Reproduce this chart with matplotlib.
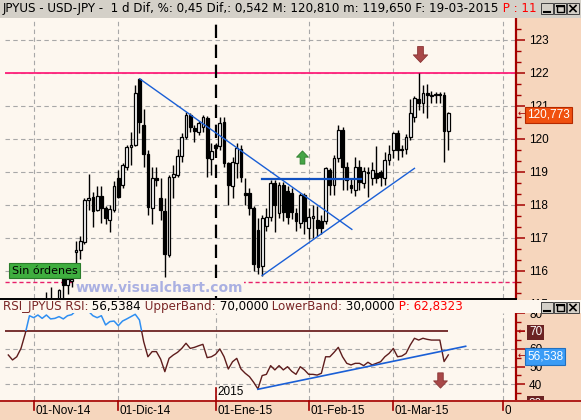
import numpy as np
import matplotlib
matplotlib.use("Agg")
import matplotlib.pyplot as plt
from matplotlib.patches import Rectangle
from matplotlib.lines import Line2D
from matplotlib.path import Path
from matplotlib.transforms import Bbox, blended_transform_factory
from matplotlib.ticker import FixedLocator

# ----------------------------- data -----------------------------
symbol = "JPYUS"
instrument = "USD-JPY"
index_origin = "2014-12-01"          # bar 0 ; one bar per weekday
candle_first_day = "2014-11-06"
last_day = "2015-03-19"

opens = [114.70, 115.15, 114.55, 114.90, 115.77, 115.57, 115.68, 116.55, 116.63, 116.88,
         118.14, 118.24, 117.84, 118.27, 117.89, 117.53, 117.84, 118.80, 118.60, 119.15,
         119.76, 119.81, 121.80, 120.40, 119.53, 117.89, 118.80, 118.20, 117.81, 116.47,
         118.85, 118.90, 119.48, 120.04, 120.72, 120.33, 120.21, 120.35, 120.62, 119.38,
         119.81, 119.78, 120.50, 119.25, 118.55, 119.27, 119.70, 118.35, 118.35, 117.89,
         117.23, 116.15, 117.36, 117.64, 118.65, 117.74, 118.60, 118.40, 118.34, 117.76,
         117.44, 118.29, 117.28, 117.60, 117.54, 117.49, 117.49, 119.05, 118.60, 119.41,
         120.26, 119.13, 118.60, 118.45, 119.15, 118.67, 118.98, 118.80, 118.95, 119.00,
         118.80, 119.35, 119.66, 120.18, 119.70, 119.68, 120.04, 120.65, 121.19, 121.07,
         121.38, 121.30, 121.32, 121.33, 121.33, 120.23]
highs = [115.35, 115.50, 115.05, 115.45, 115.82, 115.87, 115.90, 116.90, 117.05, 118.20,
         118.92, 118.39, 118.55, 118.55, 117.95, 117.98, 118.73, 119.05, 119.25, 119.80,
         120.21, 121.63, 121.83, 120.90, 119.66, 119.15, 119.15, 118.80, 118.20, 118.90,
         119.20, 119.70, 120.16, 120.82, 120.79, 120.41, 120.55, 120.72, 120.70, 119.86,
         119.86, 120.67, 120.67, 119.30, 119.45, 119.86, 119.80, 118.80, 118.50, 117.95,
         117.60, 117.70, 117.90, 118.75, 118.75, 118.68, 118.68, 118.55, 118.50, 117.90,
         118.35, 118.35, 117.90, 118.00, 117.95, 117.70, 119.15, 119.10, 119.50, 120.40,
         120.36, 119.30, 118.80, 119.45, 119.35, 119.15, 119.15, 119.30, 119.78, 119.05,
         119.60, 119.80, 120.20, 120.26, 119.80, 120.15, 121.20, 121.28, 122.00, 121.62,
         121.65, 121.43, 121.40, 121.40, 121.40, 120.81]
lows = [114.20, 114.30, 114.30, 114.80, 115.05, 115.30, 115.50, 116.15, 116.35, 116.80,
        117.84, 117.31, 117.80, 117.45, 117.42, 117.18, 117.79, 118.19, 118.50, 119.05,
        119.20, 119.78, 120.16, 119.15, 117.69, 117.41, 118.55, 117.53, 115.82, 116.42,
        118.20, 118.85, 119.30, 120.00, 120.21, 119.91, 120.10, 120.20, 118.85, 118.90,
        119.70, 119.66, 119.15, 118.00, 118.20, 118.80, 118.70, 118.00, 117.70, 116.00,
        115.90, 115.85, 117.20, 117.50, 117.18, 117.60, 117.50, 117.40, 117.55, 117.20,
        117.30, 117.10, 116.95, 116.98, 117.05, 117.10, 117.40, 118.30, 118.30, 119.30,
        118.45, 118.45, 118.35, 118.25, 118.45, 118.50, 118.24, 118.60, 118.65, 118.55,
        118.60, 119.20, 119.40, 119.35, 119.45, 119.55, 119.95, 120.50, 120.87, 120.77,
        120.62, 121.07, 121.09, 121.07, 119.30, 119.65]
closes = [114.60, 114.55, 114.90, 115.40, 115.57, 115.74, 115.76, 116.63, 116.90, 118.14,
          118.21, 117.82, 118.27, 117.89, 117.59, 117.86, 118.58, 118.24, 119.19, 119.76,
          119.82, 121.37, 120.52, 119.53, 117.94, 118.80, 118.75, 117.85, 116.50, 118.85,
          118.92, 119.47, 120.04, 120.72, 120.34, 120.24, 120.46, 120.67, 119.41, 119.63,
          119.73, 120.47, 119.25, 118.60, 119.30, 119.73, 118.85, 118.28, 117.90, 116.20,
          116.10, 117.61, 117.64, 118.65, 117.99, 118.60, 117.77, 117.64, 117.77, 117.49,
          118.29, 117.49, 117.64, 117.65, 117.30, 117.28, 119.10, 118.60, 119.41, 120.26,
          119.13, 118.75, 118.50, 119.15, 118.70, 119.02, 118.96, 119.05, 118.80, 118.85,
          119.35, 119.53, 120.16, 119.66, 119.65, 120.04, 120.77, 121.22, 121.09, 121.37,
          121.33, 121.30, 121.33, 121.32, 120.231, 120.773]

rsi_first_day = "2014-10-24"
rsi_values = [56.5, 53.7, 55.5, 60.2, 68.5, 78.6, 77.5, 79.0, 77.1, 79.0,
              76.8, 77.1, 78.1, 76.8, 78.6, 79.2, 81.5, 83.0, 84.5, 81.0,
              78.6, 77.5, 78.6, 73.4, 75.3, 75.6, 73.0, 75.6, 76.8, 78.1,
              79.4, 76.2, 64.0, 55.5, 58.4, 58.4, 54.2, 47.1, 54.6, 56.5,
              58.0, 60.2, 63.1, 60.2, 60.8, 61.7, 62.5, 55.0, 55.5, 56.9,
              59.9, 55.5, 48.6, 52.7, 54.6, 48.6, 46.2, 44.3, 41.1, 37.4,
              44.9, 45.6, 50.5, 48.1, 50.5, 48.1, 49.9, 47.3, 45.6, 49.9,
              48.1, 45.6, 45.6, 45.2, 46.2, 55.5, 55.5, 58.0, 60.8, 55.5,
              51.8, 50.9, 51.8, 51.8, 50.5, 52.4, 50.9, 51.8, 52.7, 55.5,
              57.4, 60.2, 55.5, 55.9, 57.4, 62.1, 65.9, 64.9, 65.9, 65.3,
              64.9, 64.9, 64.9, 52.8, 56.5384]
rsi_upper_band = 70.0
rsi_lower_band = 30.0
rsi_cursor_value = 62.8323
cursor_bar_label = "11"

resistance_level = 122.0
support_level = 115.67

# trend lines as (bar index, value)
trend_down_x = [5.1, 55.2]
trend_down_y = [121.81, 117.25]
trend_up_x = [34.0, 70.0]
trend_up_y = [115.85, 119.10]
neckline_x = [34.0, 57.3]
neckline_y = [118.79, 118.79]
rsi_trend_x = [33.0, 82.1]
rsi_trend_y = [37.2, 61.4]

buy_signal = (43.4, 119.45)
sell_signal_price = (71.3, 122.57)
sell_signal_rsi = (76.1, 42.4)

price_ticks = [115, 116, 117, 118, 119, 120, 121, 122, 123]
rsi_ticks = [30, 40, 50, 60, 70, 80]
rsi_grid = [40, 50, 60]
month_starts = ["2014-11-01", "2014-12-01", "2015-01-01", "2015-02-01", "2015-03-01", "2015-04-01"]
month_labels = ["01-Nov-14", "01-Dic-14", "01-Ene-15", "01-Feb-15", "01-Mar-15", "01-Abr-15"]
year_label = "2015"
year_start = "2015-01-01"
signal_label = "Sin órdenes"
watermark = "www.visualchart.com"

# ----------------------------- style -----------------------------
W, H = 581, 420
BG = "#fdf7ef"
PEACH = "#f6d6bd"
GREY = "#d4d0c8"
AXRED = "#a40000"
GRID = "#a8a8a8"
PINK = "#ff1f7a"
BLUE = "#1a5fd6"
RSI_BROWN = "#5e1c1c"
RSI_BLUE = "#2f8ff2"
TITLE_BROWN = "#7a2626"
RED = "#ff0000"
FONT = "DejaVu Sans"
AXFONT = "Liberation Sans"


def bar_index(day):
    return int(np.busday_count(index_origin, day))


def month_pos(day):
    d = np.datetime64(day)
    ld = np.datetime64(last_day)
    if d <= ld:
        return bar_index(np.busday_offset(d, 0, roll="forward"))
    return bar_index(last_day) + int((d - ld).astype(int))


def es(v, d):
    return f"{v:.{d}f}".replace(".", ",")


candle_x = bar_index(candle_first_day) + np.arange(len(opens))
rsi_x = bar_index(rsi_first_day) + np.arange(len(rsi_values))
o = np.array(opens); h = np.array(highs); l = np.array(lows); c = np.array(closes)

fig = plt.figure(figsize=(W / 100, H / 100), dpi=100)
fig.patch.set_facecolor(BG)


def fbox(x0, y0, x1, y1):
    return [x0 / W, 1 - y1 / H, (x1 - x0) / W, (y1 - y0) / H]


def px_rect(x0, y0, x1, y1, **kw):
    r = Rectangle((x0 / W, 1 - y1 / H), (x1 - x0) / W, (y1 - y0) / H,
                  transform=fig.transFigure, **kw)
    fig.add_artist(r)
    return r


def px_line(xs, ys, **kw):
    ln = Line2D([x / W for x in xs], [1 - y / H for y in ys], transform=fig.transFigure, **kw)
    fig.add_artist(ln)
    return ln


def px_text(x, y, s, **kw):
    return fig.text(x / W, 1 - y / H, s, **kw)


PL, PR = 5, 516
ax = fig.add_axes(fbox(PL, 19, PR, 298))
ax2 = fig.add_axes(fbox(PL, 313, PR, 400))
AXW = PR - PL

xl = rsi_x[0] - 0.78
xr = candle_x[-1] + 16.0
for a in (ax, ax2):
    a.set_facecolor(BG)
    for s in ["top", "left", "bottom"]:
        a.spines[s].set_visible(False)
    a.spines["right"].set_color(AXRED)
    a.spines["right"].set_linewidth(1.6)
    a.set_xlim(xl, xr)
    a.tick_params(axis="x", bottom=False, labelbottom=False)
    a.yaxis.set_ticks_position("right")
    a.tick_params(axis="y", which="major", direction="out", length=6.5, width=1.1,
                  color=AXRED, labelright=False, labelleft=False)
    a.tick_params(axis="y", which="minor", direction="out", length=3.5, width=1.0,
                  color=AXRED)

ax.set_ylim(115.17, 123.627)
ax2.set_ylim(31.16, 80.13)
ax.yaxis.set_major_locator(FixedLocator(price_ticks))
ax.yaxis.set_minor_locator(FixedLocator(np.arange(price_ticks[0], price_ticks[-1] + 1, 1 / 3)))
ax2.yaxis.set_major_locator(FixedLocator(rsi_ticks))
ax2.yaxis.set_minor_locator(FixedLocator(np.arange(25, 90, 5)))

# background strips
px_rect(0, 0, W, 17.5, facecolor=GREY, edgecolor="none", zorder=5)
px_rect(PR, 17.5, W, 300, facecolor=PEACH, edgecolor="none", zorder=-5)
px_rect(PR, 313, W, 400, facecolor=PEACH, edgecolor="none", zorder=-5)
px_rect(0, 400, W, H, facecolor=PEACH, edgecolor="none", zorder=5)
px_rect(0, 300, W, 313, facecolor=BG, edgecolor="none", zorder=5)
px_line([0, PR], [299.3, 299.3], color="black", lw=1.4, zorder=6)
px_line([0, W], [400.5, 400.5], color=AXRED, lw=1.2, zorder=6)

# ----------------------------- main panel -----------------------------
month_x = [month_pos(d) for d in month_starts]
year_x = month_pos(year_start)
for p in range(116, 124):
    ax.axhline(p, color=GRID, lw=0.8, ls=(0, (4, 3)), zorder=1)
for mx in month_x:
    if mx == year_x:
        ax.axvline(mx, color="black", lw=1.6, ls=(0, (6, 3)), zorder=4)
    else:
        ax.axvline(mx, color=GRID, lw=0.8, ls=(0, (4, 3)), zorder=1)
    ax2.axvline(mx, color=GRID, lw=0.8, ls=(0, (4, 3)), zorder=1)
for v in rsi_grid:
    ax2.axhline(v, color=GRID, lw=0.8, ls=(0, (4, 3)), zorder=1)

ax.axhline(resistance_level, color=PINK, lw=1.3, zorder=2)
ax.axhline(support_level, color="#e8206a", lw=1.0, ls=(0, (3, 2)), zorder=2)

# candles
ax.vlines(candle_x, l, h, color="black", lw=1.0, zorder=5)
up = c >= o
ax.bar(candle_x, np.maximum(np.abs(c - o), 0.02), bottom=np.minimum(o, c), width=0.64,
       color=np.where(up, "white", "black"), edgecolor="black", linewidth=0.9, zorder=6)

# trend lines
ax.plot(trend_down_x, trend_down_y, color=BLUE, lw=1.0, zorder=7)
ax.plot(trend_up_x, trend_up_y, color=BLUE, lw=1.0, zorder=7)
ax.plot(neckline_x, neckline_y, color="#1050c0", lw=1.6, zorder=7)

up_arrow = Path([(-0.9, 0.05), (0, 1), (0.9, 0.05), (0.36, 0.05), (0.36, -1),
                 (-0.36, -1), (-0.36, 0.05), (-0.9, 0.05)], closed=True)
down_arrow = Path([(x, -y) for x, y in up_arrow.vertices], closed=True)
ax.plot(*buy_signal, marker=up_arrow, ms=9.5, color="#46a546", mec="#2d7d2d", mew=0.6,
        ls="none", zorder=8)
ax.plot(*sell_signal_price, marker=down_arrow, ms=11.5, color="#a84848", mec="#8a3434",
        mew=0.6, ls="none", zorder=8)

# watermark and label
px_text(76, 288, watermark, fontsize=10, fontweight="bold", color="#aab0e2",
        family=FONT, ha="left", va="center", zorder=3,
        bbox=dict(boxstyle="square,pad=0.05", fc=BG, ec="none"))
px_rect(9, 263, 80, 277.5, facecolor="#3fae3f", edgecolor="#2a7d2a", lw=0.8, zorder=4)
px_text(44.5, 270.5, signal_label, fontsize=8, color="black", family=FONT,
        ha="center", va="center", zorder=4.5)

# main right axis labels
tr = blended_transform_factory(ax.transAxes, ax.transData)
for p in price_ticks:
    ax.text(1 + 13 / AXW, p, str(p), transform=tr, ha="left", va="center_baseline",
            fontsize=8.5, family=AXFONT, color="black", clip_on=False, zorder=3)
ax.text(1 + 11 / AXW, c[-1], es(c[-1], 3), transform=tr, ha="left", va="center_baseline",
        fontsize=8.5, family=AXFONT, color="white", clip_on=False, zorder=10,
        bbox=dict(boxstyle="square,pad=0.18", fc="#f0500f", ec="#b52a00", lw=0.8))
ax.text(1 + 2 / AXW, c[-1], "←", transform=tr, ha="left", va="center",
        fontsize=6.5, family=FONT, color=AXRED, clip_on=False, zorder=10)

# ----------------------------- RSI panel -----------------------------
ax2.hlines(rsi_upper_band, xl, candle_x[-1], color="#6e2323", lw=1.3, zorder=3)
lo_line, = ax2.plot(rsi_x, rsi_values, color=RSI_BROWN, lw=1.0, zorder=5)
hi_line, = ax2.plot(rsi_x, rsi_values, color=RSI_BLUE, lw=1.1, zorder=5)
lo_line.set_clip_path(Rectangle((xl, 0), xr - xl, rsi_upper_band, transform=ax2.transData))
hi_line.set_clip_path(Rectangle((xl, rsi_upper_band), xr - xl, 100, transform=ax2.transData))
ax2.plot(rsi_trend_x, rsi_trend_y, color=BLUE, lw=1.2, zorder=6)
ax2.plot(*sell_signal_rsi, marker=down_arrow, ms=11, color="#a84848", mec="#8a3434",
         mew=0.6, ls="none", zorder=8)

tr2 = blended_transform_factory(ax2.transAxes, ax2.transData)
for v in rsi_ticks:
    boxed = v in (rsi_upper_band, rsi_lower_band)
    ax2.text(1 + 13 / AXW, v, str(v), transform=tr2, ha="left", va="center_baseline",
             fontsize=8.5, family=AXFONT, color="white" if boxed else "black",
             clip_on=False, zorder=4,
             bbox=dict(boxstyle="square,pad=0.15", fc="#6b2323", ec="none") if boxed else None)
ax2.text(1 + 2 / AXW, rsi_upper_band, "←", transform=tr2, ha="left", va="center",
         fontsize=6.5, family=FONT, color=AXRED, clip_on=False, zorder=10)
ax2.text(1 + 11 / AXW, rsi_values[-1], es(rsi_values[-1], 3), transform=tr2, ha="left",
         va="center_baseline", fontsize=8.5, family=AXFONT, color="white", clip_on=False,
         zorder=10, bbox=dict(boxstyle="square,pad=0.18", fc="#3a9cf6", ec="#2070c0", lw=0.8))
ax2.text(1 + 2 / AXW, rsi_values[-1], "←", transform=tr2, ha="left", va="center",
         fontsize=6.5, family=FONT, color=AXRED, clip_on=False, zorder=10)

# year marker inside RSI panel
trx = blended_transform_factory(ax2.transData, ax2.transAxes)
ax2.plot([year_x, year_x], [0, 0.14], transform=trx, color=AXRED, lw=1.2, clip_on=False, zorder=6)
ax2.text(year_x + 0.45, 0.09, year_label, transform=trx, ha="left", va="center",
         fontsize=8.5, family=AXFONT, color="black", zorder=6)

# ----------------------------- time axis -----------------------------
def data_px(k):
    return PL + (k - xl) / (xr - xl) * AXW

for mx, lab in zip(month_x, month_labels):
    xp = data_px(mx)
    px_line([xp, xp], [401, 410], color=AXRED, lw=1.2, zorder=6)
    t = px_text(xp + 1.5, 411, lab, fontsize=8.5, family=AXFONT, color="black",
                ha="left", va="center", zorder=6)
    t.set_clip_box(Bbox.from_extents(0, 0, 511, H))
    t.set_clip_on(True)

# ----------------------------- titles -----------------------------
renderer = fig.canvas.get_renderer()
dif = c[-1] - c[-2]
pct = dif / c[-2] * 100
ld = np.datetime64(last_day).astype(object)
main_text = (f"{symbol} - {instrument} -  1 d Dif, %: {es(pct, 2)} Dif,: {es(dif, 3)} "
             f"M: {es(h[-1], 3)} m: {es(l[-1], 3)} F: {ld.strftime('%d-%m-%Y')}")
main_runs = [(main_text, "black"), (f" P : {cursor_bar_label}", RED)]
rsi_runs = [(f"RSI_{symbol} RSI:", TITLE_BROWN), (f" {es(rsi_values[-1], 4)}", "black"),
            (" UpperBand:", TITLE_BROWN), (f" {es(rsi_upper_band, 4)}", "black"),
            (" LowerBand:", TITLE_BROWN), (f" {es(rsi_lower_band, 4)}", "black"),
            (f" P: {es(rsi_cursor_value, 4)}", RED)]

probe = fig.text(0, 0, "".join(s for s, _ in main_runs), fontsize=10, family=FONT)
w10 = probe.get_window_extent(renderer).width
probe.remove()
tsize = 10 * 532 / w10


def write_runs(x, y, runs):
    for s, col in runs:
        t = px_text(x, y, s, fontsize=tsize, family=FONT, color=col, ha="left",
                    va="center", zorder=10)
        x += t.get_window_extent(renderer).width


write_runs(3, 8.5, main_runs)
write_runs(3, 306.5, rsi_runs)


def window_buttons(y0):
    for a, b in [(541, 553), (554, 566), (567, 579)]:
        px_rect(a, y0, b, y0 + 11, facecolor=GREY, edgecolor="#404040", lw=0.7, zorder=20)
    px_line([544, 550], [y0 + 8.5, y0 + 8.5], color="black", lw=1.5, zorder=21)
    px_rect(556.5, y0 + 2.5, 563.5, y0 + 8.5, facecolor="none", edgecolor="black", lw=1.0, zorder=21)
    px_line([556.5, 563.5], [y0 + 3, y0 + 3], color="black", lw=1.5, zorder=21)
    px_line([570, 576], [y0 + 2.5, y0 + 8.5], color="black", lw=1.2, zorder=21)
    px_line([570, 576], [y0 + 8.5, y0 + 2.5], color="black", lw=1.2, zorder=21)


window_buttons(3)
window_buttons(302)

fig.savefig("out.png", dpi=100, facecolor=fig.get_facecolor())
